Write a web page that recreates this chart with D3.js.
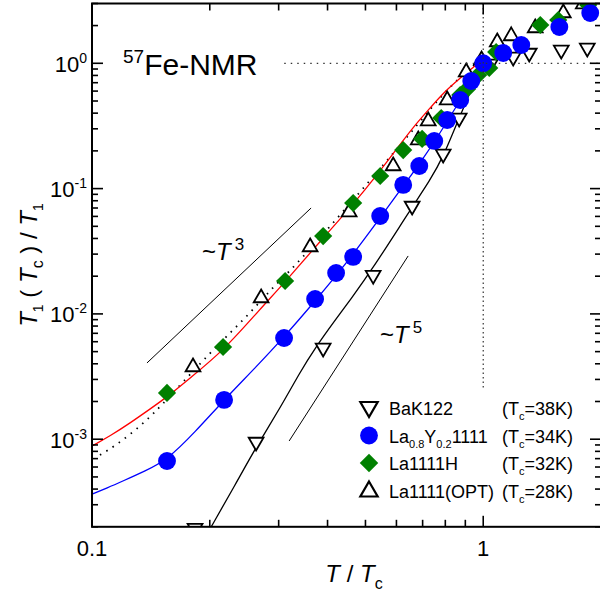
<!DOCTYPE html>
<html>
<head>
<meta charset="utf-8">
<script src="https://cdn.jsdelivr.net/npm/d3@7"></script>
<style>
  body { margin: 0; background: #fff; }
  svg { display: block; font-family: "Liberation Sans", Arial, sans-serif; }
</style>
</head>
<body>
<div id="chart"></div>
<script>
// T/Tc, T1(Tc)/T1
const bak122 = [[0.1834, 1.95e-4], [0.2627, 9.5e-4], [0.3898, 5.35e-3], [0.5232, 0.0204], [0.6582, 0.0726],
  [0.790, 0.189], [0.868, 0.366], [1.042, 0.987], [1.193, 1.123], [1.311, 1.208], [1.583, 1.277], [1.845, 1.325]]
const laY1111 = [[0.1555, 6.7e-4], [0.2176, 2.06e-3], [0.3097, 6.42e-3], [0.3718, 0.01315], [0.4207, 0.0212],
  [0.4651, 0.0285], [0.5453, 0.0604], [0.6244, 0.107], [0.6863, 0.1515], [0.7496, 0.240], [0.809, 0.353],
  [0.8732, 0.509], [0.932, 0.722], [1.0, 1.0], [1.125, 1.208], [1.251, 1.40], [1.565, 1.949], [1.877, 2.52]]
const la1111H = [[0.1555, 2.34e-3], [0.2163, 5.44e-3], [0.3116, 0.0183], [0.3898, 0.0418], [0.4651, 0.0767],
  [0.5453, 0.126], [0.6244, 0.203], [0.698, 0.249], [0.7809, 0.366], [0.8732, 0.558], [0.910, 0.624],
  [0.971, 0.806], [1.036, 0.917], [1.079, 1.231], [1.399, 2.02], [1.555, 2.216], [1.855, 2.92]]
const la1111Opt = [[0.1812, 3.77e-3], [0.2706, 0.0134], [0.3611, 0.0342], [0.4542, 0.065], [0.5886, 0.1515],
  [0.6822, 0.244], [0.7235, 0.346], [0.809, 0.509], [0.9047, 0.852], [0.99, 1.06], [1.086, 1.479],
  [1.179, 1.652], [1.358, 1.913], [1.602, 2.52], [1.802, 2.97]]

// fit curves
const fitBak = [[0.195, 1.66e-4], [0.2015, 1.99e-4], [0.2321, 4.31e-4], [0.2627, 8.66e-4], [0.3026, 1.774e-3],
  [0.3404, 3.44e-3], [0.3718, 5.35e-3], [0.4183, 8.94e-3], [0.4569, 0.0129], [0.5232, 0.02325],
  [0.6506, 0.0675], [0.732, 0.1171], [0.790, 0.1788], [0.8631, 0.353], [0.9264, 0.590]]
const fitLaY = [[0.1, 3.65e-4], [0.1093, 4.08e-4], [0.12, 4.64e-4], [0.1366, 5.57e-4], [0.1555, 6.82e-4],
  [0.1834, 1.14e-3], [0.2176, 2.06e-3], [0.2612, 3.7e-3], [0.3097, 6.54e-3], [0.3718, 0.01268],
  [0.4436, 0.02455], [0.5453, 0.0583], [0.6244, 0.105], [0.69, 0.16], [0.7762, 0.278], [0.8732, 0.509],
  [0.937, 0.722], [1.0, 1.0]]
const fitH = [[0.1, 8.83e-4], [0.1112, 1.06e-3], [0.1251, 1.346e-3], [0.1407, 1.742e-3], [0.1555, 2.17e-3],
  [0.1781, 3.08e-3], [0.2176, 5.15e-3], [0.269, 0.01094], [0.3116, 0.01797], [0.3875, 0.0396],
  [0.4707, 0.0782], [0.5325, 0.126], [0.5956, 0.1995], [0.6622, 0.31], [0.732, 0.44], [0.79, 0.579],
  [0.8732, 0.763], [0.971, 1.0]]
const fitOpt = [[0.1048, 7.48e-4], [0.1145, 8.83e-4], [0.1273, 1.14e-3], [0.139, 1.45e-3], [0.1492, 1.81e-3],
  [0.1699, 2.81e-3], [0.2003, 4.87e-3], [0.2253, 7.04e-3], [0.2535, 0.01017], [0.2904, 0.0164],
  [0.3266, 0.02325], [0.3945, 0.0451], [0.4845, 0.094], [0.5782, 0.1788], [0.6782, 0.322],
  [0.7762, 0.538], [0.8582, 0.736], [0.9264, 0.917], [0.9825, 1.043]]

// power-law guides
const guideT3 = [[0.1382, 4.06e-3], [0.3631, 0.070]]
const guideT5 = [[0.3191, 9.68e-4], [0.6428, 0.029]]

const xDomain = [0.1, 2]
const yDomain = [2e-4, 3]
const yMajor = [1e-3, 1e-2, 1e-1, 1]
const xLabels = [0.1, 1]

const legendRows = [
  { name: "BaK122", tc: "38K" },
  { name: "LaY", tc: "34K" },
  { name: "La1111H", tc: "32K" },
  { name: "La1111(OPT)", tc: "28K" },
]

const dims = { width: 600, height: 597, left: 92, top: 3.5, right: 601, bottom: 526.8 }

const x = d3.scaleLog().domain(xDomain).range([dims.left, dims.right])
const y = d3.scaleLog().domain(yDomain).range([dims.bottom, dims.top])

const svg = d3.select("#chart").append("svg")
  .attr("width", dims.width).attr("height", dims.height)

svg.append("defs").append("clipPath").attr("id", "plot")
  .append("rect")
  .attr("x", dims.left).attr("y", dims.top)
  .attr("width", dims.right - dims.left).attr("height", dims.bottom - dims.top)

const plot = svg.append("g").attr("clip-path", "url(#plot)")

const line = d3.line().x(d => x(d[0])).y(d => y(d[1]))
const smooth = d3.line().x(d => x(d[0])).y(d => y(d[1])).curve(d3.curveBasis)

// guides
;[guideT3, guideT5].forEach(g => {
  plot.append("path").attr("d", line(g))
    .attr("fill", "none").attr("stroke", "#000").attr("stroke-width", 1)
})

// fits
plot.append("path").attr("d", smooth(fitOpt)).attr("fill", "none")
  .attr("stroke", "#000").attr("stroke-width", 1.8).attr("stroke-dasharray", "1.5,6")
plot.append("path").attr("d", smooth(fitBak)).attr("fill", "none")
  .attr("stroke", "#000").attr("stroke-width", 1.3)
plot.append("path").attr("d", smooth(fitLaY)).attr("fill", "none")
  .attr("stroke", "#0000ff").attr("stroke-width", 1.3)
plot.append("path").attr("d", smooth(fitH)).attr("fill", "none")
  .attr("stroke", "#ff0000").attr("stroke-width", 1.3)

// markers
const triUp = d3.symbol(d3.symbolTriangle, 95)()
const square = d3.symbol(d3.symbolSquare, 165)()
const circle = d3.symbol(d3.symbolCircle, 250)()

plot.append("g").selectAll("path").data(bak122).join("path")
  .attr("d", triUp)
  .attr("transform", d => `translate(${x(d[0])},${y(d[1])}) rotate(180)`)
  .attr("fill", "#fff").attr("stroke", "#000").attr("stroke-width", 1.8)

plot.append("g").selectAll("path").data(la1111Opt).join("path")
  .attr("d", triUp)
  .attr("transform", d => `translate(${x(d[0])},${y(d[1])})`)
  .attr("fill", "#fff").attr("stroke", "#000").attr("stroke-width", 1.8)

plot.append("g").selectAll("path").data(la1111H).join("path")
  .attr("d", square)
  .attr("transform", d => `translate(${x(d[0])},${y(d[1])}) rotate(45)`)
  .attr("fill", "#008000")

plot.append("g").selectAll("path").data(laY1111).join("path")
  .attr("d", circle)
  .attr("transform", d => `translate(${x(d[0])},${y(d[1])})`)
  .attr("fill", "#0000ff")

// reference lines at Tc
plot.append("line")
  .attr("x1", x(1)).attr("x2", x(1)).attr("y1", dims.top).attr("y2", y(2.47e-3))
  .attr("stroke", "#333").attr("stroke-width", 1.2).attr("stroke-dasharray", "1.5,3")
plot.append("line")
  .attr("x1", x(0.31)).attr("x2", dims.right).attr("y1", y(1)).attr("y2", y(1))
  .attr("stroke", "#333").attr("stroke-width", 1.2).attr("stroke-dasharray", "1.5,5")

// frame and ticks
const axes = svg.append("g").attr("stroke", "#000")
axes.append("rect")
  .attr("x", dims.left).attr("y", dims.top)
  .attr("width", dims.right - dims.left).attr("height", dims.bottom - dims.top)
  .attr("fill", "none").attr("stroke-width", 2)

const isMajor = v => Math.abs(Math.log10(v) - Math.round(Math.log10(v))) < 1e-6

x.ticks().forEach(t => {
  const len = isMajor(t) ? 11 : 7
  const px = x(t)
  axes.append("line").attr("x1", px).attr("x2", px).attr("y1", dims.bottom).attr("y2", dims.bottom - len).attr("stroke-width", 1.6)
  axes.append("line").attr("x1", px).attr("x2", px).attr("y1", dims.top).attr("y2", dims.top + len).attr("stroke-width", 1.6)
})
y.ticks().forEach(t => {
  const len = isMajor(t) ? 11 : 6
  const py = y(t)
  axes.append("line").attr("x1", dims.left).attr("x2", dims.left + len).attr("y1", py).attr("y2", py).attr("stroke-width", 1.6)
  axes.append("line").attr("x1", dims.right).attr("x2", dims.right - len).attr("y1", py).attr("y2", py).attr("stroke-width", 1.6)
})

// tick labels
svg.append("g").selectAll("text").data(xLabels).join("text")
  .attr("x", d => x(d)).attr("y", 556)
  .attr("text-anchor", "middle").attr("font-size", 22)
  .text(d => d)

const yl = svg.append("g").selectAll("text").data(yMajor).join("text")
  .attr("x", 87).attr("y", d => y(d) + 8.5)
  .attr("text-anchor", "end").attr("font-size", 22)
yl.append("tspan").text("10")
yl.append("tspan").attr("font-size", 14).attr("dy", -9).text(d => Math.round(Math.log10(d)))

// axis titles
const xt = svg.append("text").attr("x", 354).attr("y", 582).attr("text-anchor", "middle").attr("font-size", 24)
xt.append("tspan").attr("font-style", "italic").text("T")
xt.append("tspan").text(" / ")
xt.append("tspan").attr("font-style", "italic").text("T")
xt.append("tspan").attr("font-size", 16).attr("dy", 7).text("c")

const ytl = svg.append("text")
  .attr("transform", "translate(37,265) rotate(-90)")
  .attr("text-anchor", "middle").attr("font-size", 24)
ytl.append("tspan").attr("font-style", "italic").text("T")
ytl.append("tspan").attr("font-size", 14).attr("dy", 6).text("1")
ytl.append("tspan").attr("dy", -6).text(" ( ")
ytl.append("tspan").attr("font-style", "italic").text("T")
ytl.append("tspan").attr("font-size", 16).attr("dy", 6).text("c")
ytl.append("tspan").attr("dy", -6).text(" ) / ")
ytl.append("tspan").attr("font-style", "italic").text("T")
ytl.append("tspan").attr("font-size", 14).attr("dy", 6).text("1")

// annotations
const nmr = svg.append("text").attr("x", 123).attr("y", 75).attr("font-size", 30)
nmr.append("tspan").attr("font-size", 19).attr("dy", -12).text("57")
nmr.append("tspan").attr("dy", 12).text("Fe-NMR")

const p3 = svg.append("text").attr("x", 202).attr("y", 260).attr("font-size", 24)
p3.append("tspan").text("~")
p3.append("tspan").attr("font-style", "italic").text("T")
p3.append("tspan").attr("font-size", 17).attr("dx", 4).attr("dy", -10).text("3")

const p5 = svg.append("text").attr("x", 380).attr("y", 343).attr("font-size", 24)
p5.append("tspan").text("~")
p5.append("tspan").attr("font-style", "italic").text("T")
p5.append("tspan").attr("font-size", 17).attr("dx", 4).attr("dy", -10).text("5")

// legend
const legend = svg.append("g").attr("font-size", 18)
const rowY = i => 408 + i * 27.5
const legendMarkers = [
  { d: d3.symbol(d3.symbolTriangle, 130)(), rot: 180, fill: "#fff", stroke: "#000" },
  { d: d3.symbol(d3.symbolCircle, 250)(), rot: 0, fill: "#0000ff", stroke: "none" },
  { d: d3.symbol(d3.symbolSquare, 170)(), rot: 45, fill: "#008000", stroke: "none" },
  { d: d3.symbol(d3.symbolTriangle, 130)(), rot: 0, fill: "#fff", stroke: "#000" },
]
legendRows.forEach((r, i) => {
  const m = legendMarkers[i]
  legend.append("path").attr("d", m.d)
    .attr("transform", `translate(369,${rowY(i) + (m.rot === 180 ? -1 : m.rot === 0 && m.stroke !== "none" ? 1 : 0)}) rotate(${m.rot})`)
    .attr("fill", m.fill).attr("stroke", m.stroke).attr("stroke-width", 2.2)
  const t = legend.append("text").attr("x", 389).attr("y", rowY(i) + 7)
  if (r.name === "LaY") {
    t.append("tspan").text("La")
    t.append("tspan").attr("font-size", 11).attr("dy", 5).text("0.8")
    t.append("tspan").attr("dy", -5).text("Y")
    t.append("tspan").attr("font-size", 11).attr("dy", 5).text("0.2")
    t.append("tspan").attr("dy", -5).text("1111")
  } else {
    t.text(r.name)
  }
  const tc = legend.append("text").attr("x", 573).attr("y", rowY(i) + 7).attr("text-anchor", "end")
  tc.append("tspan").text("(T")
  tc.append("tspan").attr("font-size", 11).attr("dy", 5).text("c")
  tc.append("tspan").attr("dy", -5).text("=" + r.tc + ")")
})
</script>
</body>
</html>
